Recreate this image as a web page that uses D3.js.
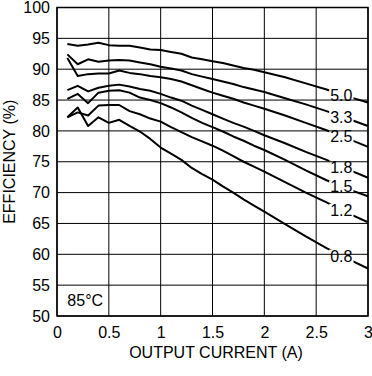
<!DOCTYPE html>
<html><head><meta charset="utf-8">
<script src="https://cdn.jsdelivr.net/npm/d3@7"></script>
<style>body{margin:0;background:#fff;} svg{display:block;} text{font-family:"Liberation Sans",Arial,sans-serif;fill:#000;}</style>
</head><body><svg id="c" width="372" height="376"></svg>
<script>
const current = [0.1,0.2,0.3,0.4,0.5,0.6,0.7,0.8,0.9,1.0,1.1,1.2,1.3,1.4,1.5,1.6,1.7,1.8,1.9,2.0,2.2,2.4,2.6,2.8,3.0];
const seriesNames = ["5.0","3.3","2.5","1.8","1.5","1.2","0.8"];
const eff50 = [94.1,93.8,94.0,94.3,93.9,93.8,93.8,93.5,93.2,93.1,92.8,92.5,91.9,91.6,91.3,91.0,90.6,90.2,89.9,89.5,88.7,87.7,86.7,85.6,84.6];
const eff33 = [92.4,90.8,91.6,91.2,91.4,91.5,91.4,91.1,90.8,90.4,90.1,89.8,89.2,88.8,88.4,88.0,87.6,87.1,86.7,86.3,85.3,84.3,83.2,82.0,80.8];
const eff25 = [91.8,88.9,89.2,89.3,89.3,89.8,89.4,89.2,88.9,88.7,88.4,88.0,87.4,86.8,86.2,85.7,85.2,84.6,84.1,83.6,82.5,81.3,80.1,78.8,77.4];
const eff18 = [86.6,87.3,86.4,87.0,87.3,87.5,87.2,86.8,86.5,86.0,85.4,84.9,84.1,83.4,82.7,82.0,81.3,80.7,80.0,79.3,78.0,76.6,75.3,73.8,72.4];
const eff15 = [85.2,86.0,84.5,86.2,86.5,86.6,86.2,85.4,85.0,84.5,83.8,83.0,82.1,81.3,80.6,79.9,79.1,78.4,77.6,76.9,75.3,73.6,72.0,70.6,69.4];
const eff12 = [82.2,83.0,82.5,84.1,84.2,84.2,83.2,82.7,82.0,81.5,80.6,79.8,79.0,78.3,77.6,76.8,75.9,75.0,74.2,73.4,71.7,70.0,68.4,66.7,65.2];
const eff08 = [82.2,83.8,80.8,82.2,81.3,81.8,80.8,79.9,78.7,77.3,76.3,75.3,74.0,73.0,72.1,71.0,70.0,68.9,67.9,66.9,64.9,62.9,61.0,59.3,57.7];
const xTicks = [0,0.5,1,1.5,2,2.5,3];
const xTickLabels = ["0","0.5","1","1.5","2","2.5","3"];
const yTicks = [50,55,60,65,70,75,80,85,90,95,100];
const xTitle = "OUTPUT CURRENT (A)";
const yTitle = "EFFICIENCY (%)";
const note = "85°C";

const series = [eff50,eff33,eff25,eff18,eff15,eff12,eff08];
const svg = d3.select("#c");
const L=57, R=368, T=7.5, B=316;
const x = d3.scaleLinear().domain([0,3]).range([L,R]);
const y = d3.scaleLinear().domain([50,100]).range([B,T]);

// grid
const g = svg.append("g");
g.selectAll(".vg").data(xTicks).enter().append("line")
  .attr("x1",d=>x(d)).attr("x2",d=>x(d)).attr("y1",T).attr("y2",B)
  .attr("stroke","#000").attr("stroke-width",1);
g.selectAll(".hg").data(yTicks).enter().append("line")
  .attr("x1",L).attr("x2",R).attr("y1",d=>y(d)).attr("y2",d=>y(d))
  .attr("stroke","#000").attr("stroke-width",1);

// axes
const xa = svg.append("g").attr("transform",`translate(0,${B})`)
  .call(d3.axisBottom(x).tickValues(xTicks).tickFormat((d,i)=>xTickLabels[i]).tickSize(0).tickPadding(11));
const ya = svg.append("g").attr("transform",`translate(${L},0)`)
  .call(d3.axisLeft(y).tickValues(yTicks).tickSize(0).tickPadding(7));
[xa,ya].forEach(a=>{a.select(".domain").remove(); a.selectAll("text").style("font-size","16px").attr("font-family",null);});

svg.append("rect").attr("x",L).attr("y",T).attr("width",R-L).attr("height",B-T)
  .attr("fill","none").attr("stroke","#000").attr("stroke-width",1.5);

// labels positions
const labelX0 = 2.635;
const interp = (arr, v) => {
  const i = d3.bisectLeft(current, v);
  const x0=current[i-1], x1=current[i];
  return arr[i-1] + (arr[i]-arr[i-1])*(v-x0)/(x1-x0);
};
const labels = seriesNames.map((n,i)=>({name:n, v: interp(series[i], 2.73)}));

// mask
const defs = svg.append("defs");
const mask = defs.append("mask").attr("id","m").attr("maskUnits","userSpaceOnUse")
  .attr("x",0).attr("y",0).attr("width",372).attr("height",376);
mask.append("rect").attr("x",0).attr("y",0).attr("width",372).attr("height",376).attr("fill","#fff");

const lab = svg.append("g");
const texts = lab.selectAll("text").data(labels).enter().append("text")
  .attr("x",x(labelX0)).attr("y",d=>y(d.v)+1).attr("dy","0.35em")
  .style("font-size","16px").text(d=>d.name);
texts.each(function(){
  const b=this.getBBox();
  mask.append("rect").attr("x",b.x-1).attr("y",b.y+2).attr("width",b.width+2).attr("height",b.height-3).attr("fill","#000");
});

const line = d3.line().x((d,i)=>x(current[i])).y(d=>y(d));
svg.append("g").attr("mask","url(#m)").selectAll("path").data(series).enter().append("path")
  .attr("d",line).attr("fill","none").attr("stroke","#000").attr("stroke-width",2).attr("stroke-linejoin","round");

svg.append("text").attr("x",x(0.1)).attr("y",y(52.5)).attr("dy","0.35em").style("font-size","16px").text(note);
svg.append("text").attr("x",216).attr("y",358).attr("text-anchor","middle").style("font-size","16px").text(xTitle);
svg.append("text").attr("transform",`translate(15,${(T+B)/2}) rotate(-90)`).attr("text-anchor","middle").style("font-size","16px").text(yTitle);
</script></body></html>
